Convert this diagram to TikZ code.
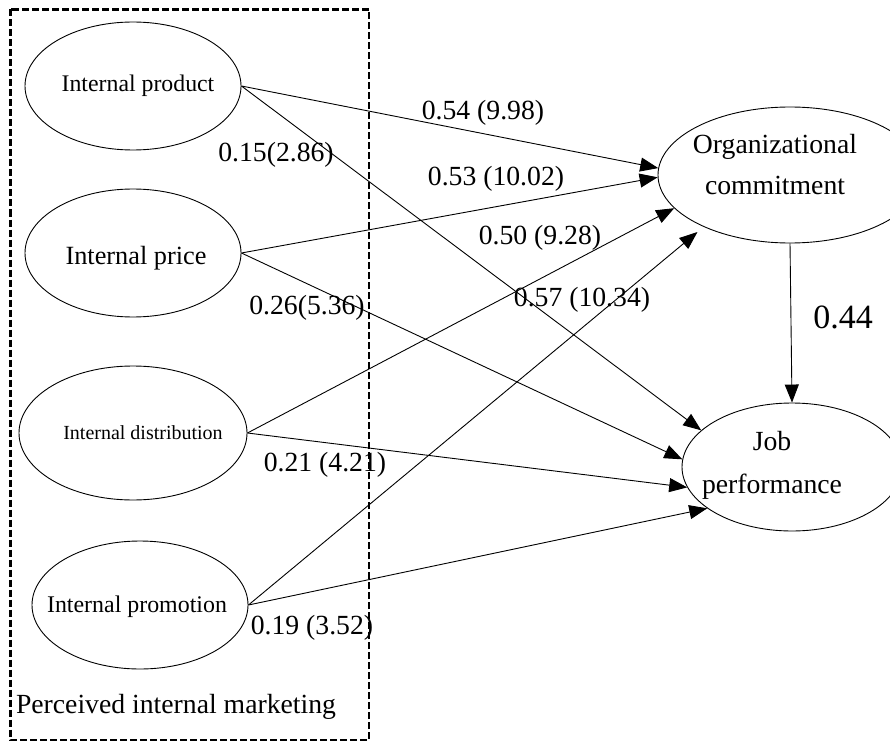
\documentclass[tikz,border=0pt]{standalone}
\usepackage{fontspec}
\setmainfont{Liberation Serif}
\usetikzlibrary{shapes.geometric,arrows.meta}
\begin{document}
\begin{tikzpicture}[x=1pt,y=-1pt,
  oval/.style={draw,ellipse,line width=0.9pt,inner sep=0pt},
  conn/.style={line width=0.9pt,-{Triangle[length=18pt,width=14pt]}},
  lbl/.style={font=\fontsize{27.7}{32}\selectfont,inner sep=0pt},
  txt/.style={inner sep=0pt,align=center},
]
\useasboundingbox (0,0) rectangle (890,743);
\clip (0,0) rectangle (890,743);
% group box
\draw[line width=2.4pt,dash pattern=on 7pt off 3pt] (10.5,9.5) rectangle (369,740);
% source ellipses
\node[oval,minimum width=216pt,minimum height=128pt,
  label={[txt,xshift=5pt,font=\fontsize{23.8}{28}\selectfont]center:Internal product}] (prod) at (133,86) {};
\node[oval,minimum width=216pt,minimum height=128pt,
  label={[txt,xshift=3pt,yshift=-5pt,font=\fontsize{26.3}{30}\selectfont]center:Internal price}] (price) at (133,253) {};
\node[oval,minimum width=228pt,minimum height=134pt,
  label={[txt,xshift=10pt,font=\fontsize{20}{24}\selectfont]center:Internal distribution}] (dist) at (133,433) {};
\node[oval,minimum width=216pt,minimum height=128pt,
  label={[txt,xshift=-3pt,yshift=-2pt,font=\fontsize{23.9}{28}\selectfont]center:Internal promotion}] (promo) at (140,605) {};
% target ellipses
\node[oval,minimum width=264pt,minimum height=136pt,
  label={[txt,xshift=-15pt,yshift=10pt,font=\fontsize{27.7}{41}\selectfont]center:Organizational\\commitment}] (oc) at (790,175) {};
\node[oval,minimum width=220pt,minimum height=128pt,
  label={[txt,xshift=-20pt,yshift=2pt,font=\fontsize{27.7}{43}\selectfont]center:Job\\performance}] (jp) at (792,467) {};
% paths to organizational commitment
\draw[conn] (prod.east) -- (oc.177.6);
\draw[conn] (price.east) -- (oc.181.6);
\draw[conn] (dist.east) -- (oc.196.9);
\draw[conn,shorten >=8pt] (promo.east) -- (oc.211.5);
% paths to job performance
\draw[conn] (prod.east) -- (jp.158.5);
\draw[conn] (price.east) -- (jp.176.3);
\draw[conn] (dist.east) -- (jp.191);
\draw[conn] (promo.east) -- (jp.206.8);
\draw[conn] (oc.south) -- (jp.north);
% coefficient labels
\node[lbl] (l1) at (483,113) {0.54 (9.98)};
\node[lbl] (l2) at (276,155) {0.15(2.86)};
\node[lbl] (l3) at (496,179) {0.53 (10.02)};
\node[lbl] (l4) at (540,238) {0.50 (9.28)};
\node[lbl] (l5) at (307,308) {0.26(5.36)};
\node[lbl] (l6) at (582,300) {0.57 (10.34)};
\node[lbl,font=\fontsize{34}{38}\selectfont] (l7) at (843,317) {0.44};
\node[lbl] (l8) at (325,465) {0.21 (4.21)};
\node[lbl] (l9) at (312,628) {0.19 (3.52)};
\node[lbl] (grp) at (176,707) {Perceived internal marketing};
\end{tikzpicture}
\end{document}
